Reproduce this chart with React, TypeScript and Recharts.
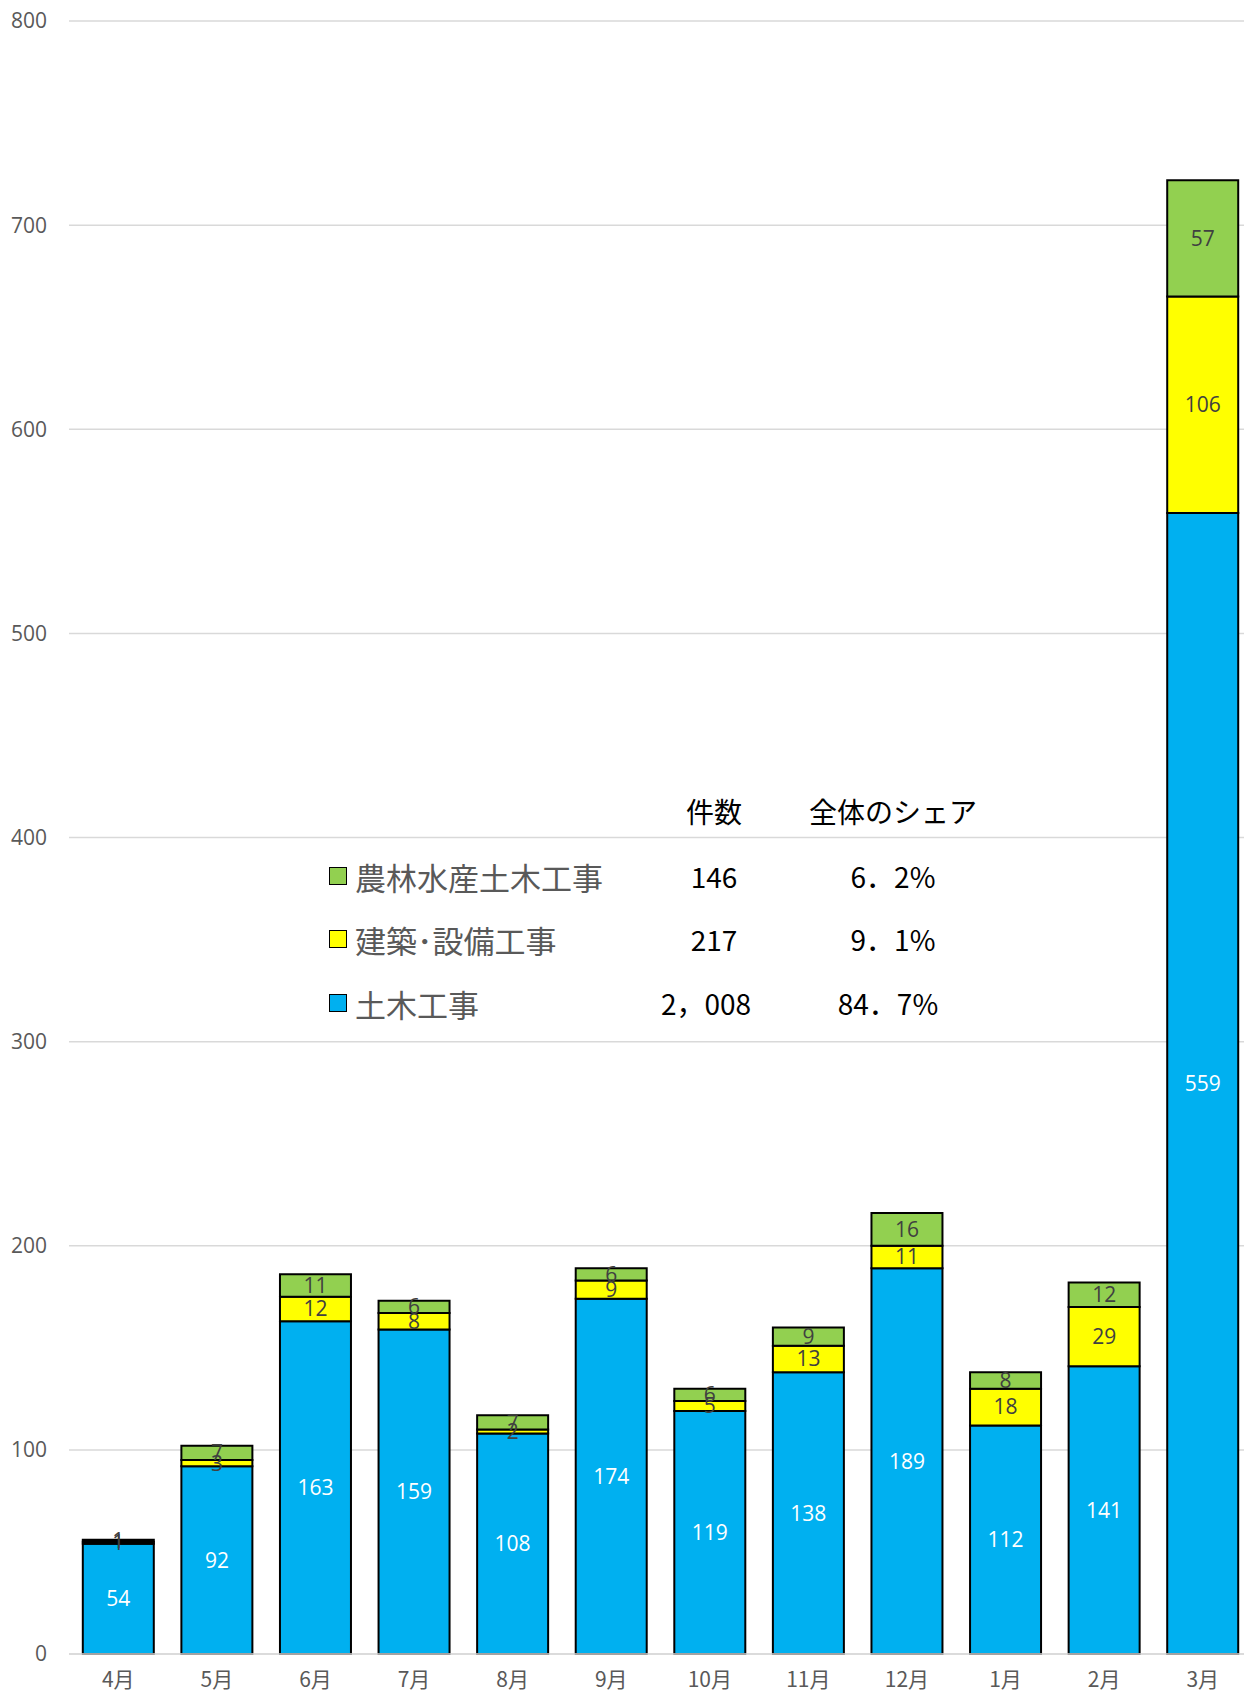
import { BarChart, Bar, XAxis, YAxis, CartesianGrid, LabelList } from 'recharts'

const months = ['4月', '5月', '6月', '7月', '8月', '9月', '10月', '11月', '12月', '1月', '2月', '3月']
const civil = [54, 92, 163, 159, 108, 174, 119, 138, 189, 112, 141, 559]
const building = [1, 3, 12, 8, 2, 9, 5, 13, 11, 18, 29, 106]
const agri = [1, 7, 11, 6, 7, 6, 6, 9, 16, 8, 12, 57]
const yTicks = [0, 100, 200, 300, 400, 500, 600, 700, 800]

// 凡例テーブル
const legendNames = ['農林水産土木工事', '建築･設備工事', '土木工事']
const legendColors = ['#92D050', '#FFFF00', '#00B0F0']
const legendCounts = ['146', '217', '2，008']
const legendShares = ['6．2%', '9．1%', '84．7%']

const data = months.map((m, i) => ({
  month: m,
  civil: civil[i],
  building: building[i],
  agri: agri[i],
}))

const font = '"Open Sans", "Noto Sans CJK JP", sans-serif'
const jpFont = '"Noto Sans CJK JP", sans-serif'

function TableLegend() {
  const rowY = [876, 939, 1003]
  return (
    <div style={{ position: 'absolute', left: 0, top: 0, fontFamily: jpFont }}>
      <div style={{ position: 'absolute', left: 714, top: 811, transform: 'translate(-50%, -50%)', fontSize: 28, color: '#000', whiteSpace: 'nowrap', lineHeight: 1 }}>件数</div>
      <div style={{ position: 'absolute', left: 893, top: 811, transform: 'translate(-50%, -50%)', fontSize: 28, color: '#000', whiteSpace: 'nowrap', lineHeight: 1 }}>全体のシェア</div>
      {legendNames.map((name, i) => (
        <div key={name}>
          <div style={{ position: 'absolute', left: 329, top: rowY[i] - 9, width: 16, height: 16, background: legendColors[i], border: '1.5px solid #000' }} />
          <div style={{ position: 'absolute', left: 355, top: rowY[i], transform: 'translateY(-50%)', fontSize: 31, color: '#595959', whiteSpace: 'nowrap', lineHeight: 1 }}>{name}</div>
          <div style={{ position: 'absolute', left: i === 2 ? 706 : 714, top: rowY[i], transform: 'translate(-50%, -50%)', fontSize: 28, color: '#000', whiteSpace: 'nowrap', lineHeight: 1 }}>{legendCounts[i]}</div>
          <div style={{ position: 'absolute', left: i === 2 ? 888 : 893, top: rowY[i], transform: 'translate(-50%, -50%)', fontSize: 28, color: '#000', whiteSpace: 'nowrap', lineHeight: 1 }}>{legendShares[i]}</div>
        </div>
      ))}
    </div>
  )
}

export default function App() {
  return (
    <div style={{ position: 'absolute', left: 0, top: 0, width: 1244, height: 1701, background: '#fff', overflow: 'hidden' }}>
      <BarChart
        width={1252}
        height={1701}
        data={data}
        margin={{ top: 21, right: 0, bottom: 5, left: 0 }}
        barCategoryGap="14%"
      >
        <CartesianGrid vertical={false} stroke="#D9D9D9" strokeWidth={1.5} />
        <XAxis
          dataKey="month"
          height={42}
          tickLine={false}
          axisLine={{ stroke: '#D9D9D9', strokeWidth: 1.5 }}
          tickMargin={12}
          tick={{ fill: '#595959', fontSize: 21, fontFamily: jpFont }}
        />
        <YAxis
          width={69}
          domain={[0, 800]}
          ticks={yTicks}
          axisLine={false}
          tickLine={false}
          tickMargin={16}
          tick={{ fill: '#595959', fontSize: 21, fontFamily: font }}
        />
        <Bar dataKey="civil" stackId="a" fill="#00B0F0" stroke="#000" strokeWidth={2} isAnimationActive={false}>
          <LabelList dataKey="civil" position="center" fill="#fff" fontSize={21} fontFamily={font} />
        </Bar>
        <Bar dataKey="building" stackId="a" fill="#FFFF00" stroke="#000" strokeWidth={2} isAnimationActive={false}>
          <LabelList dataKey="building" position="center" fill="#404040" fontSize={21} fontFamily={font} />
        </Bar>
        <Bar dataKey="agri" stackId="a" fill="#92D050" stroke="#000" strokeWidth={2} isAnimationActive={false}>
          <LabelList dataKey="agri" position="center" fill="#404040" fontSize={21} fontFamily={font} />
        </Bar>
      </BarChart>
      <TableLegend />
    </div>
  )
}
